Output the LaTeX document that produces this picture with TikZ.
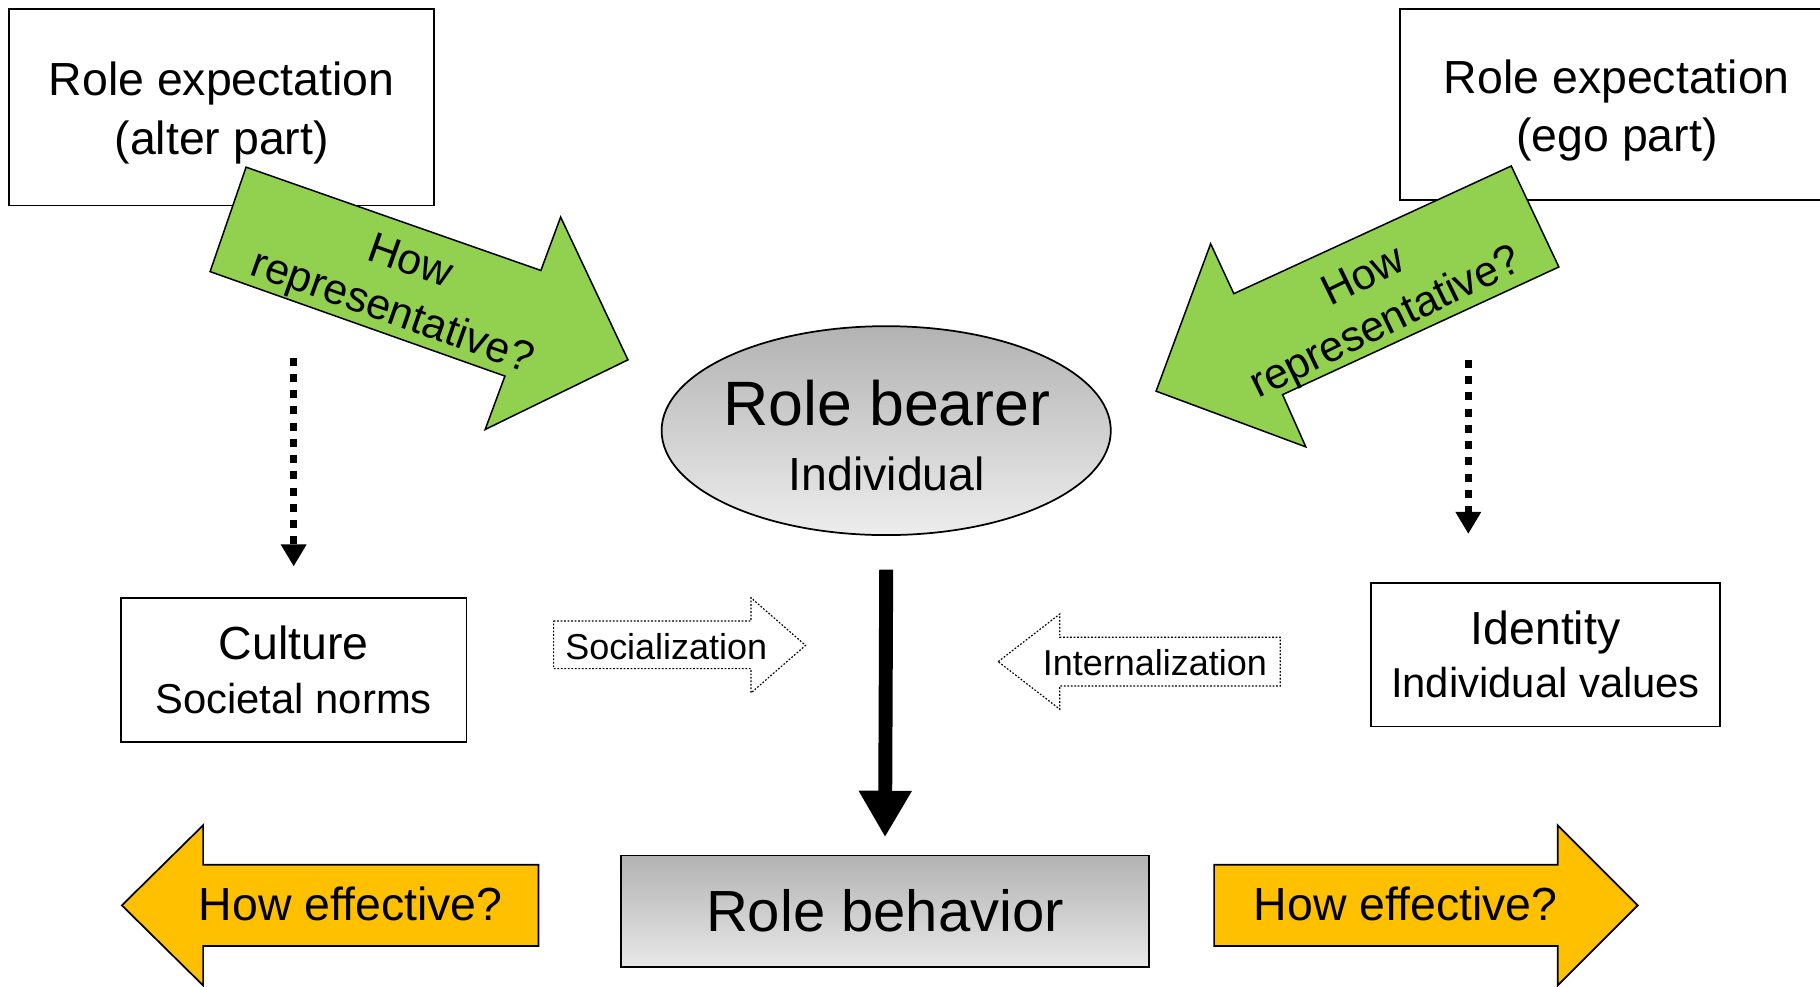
\documentclass[tikz,border=0pt]{standalone}
\usepackage{fontspec}
\setmainfont{Liberation Sans}
\usetikzlibrary{shapes.geometric,arrows.meta}
\definecolor{greenarr}{HTML}{92D050}
\definecolor{orangearr}{HTML}{FFC000}
\tikzset{
  plainbox/.style={draw=black,line width=1.5pt,fill=white,rectangle,inner sep=0pt,align=center},
  greenshape/.style={draw=black,line width=1.3pt,fill=greenarr,line join=miter},
  orangeshape/.style={draw=black,line width=1.5pt,fill=orangearr,line join=miter},
  hollowshape/.style={draw=black,line width=1pt,dash pattern=on 1.5pt off 1.5pt,fill=white},
  dotarrow/.style={line width=6pt,dash pattern=on 7pt off 7pt,-{Triangle[length=19pt,width=21pt]}},
  bigarrow/.style={line width=12pt,-{Triangle[length=40pt,width=43pt]}},
  lbl/.style={inner sep=0pt,align=center}
}
\begin{document}
\begin{tikzpicture}[x=1pt,y=-1pt]
\useasboundingbox (0,0) rectangle (1568,849.5);
\begin{scope}
\clip (0,0) rectangle (1568,849.5);

% top boxes
\node[plainbox,minimum width=366pt,minimum height=169pt] (alter) at (191,92.5) {};
\node[lbl,font=\fontsize{40}{51}\selectfont] (altertext) at (191,97) {Role expectation\\(alter part)};
\node[plainbox,minimum width=374pt,minimum height=164pt] (ego) at (1393,90) {};
\node[lbl,font=\fontsize{40}{50}\selectfont] (egotext) at (1393,95) {Role expectation\\(ego part)};

% green arrows
\draw[greenshape] (212,144) -- (466,233) -- (483,187) -- (541,310) -- (418,370) -- (435,324) -- (181,234) -- cycle;
\node[lbl,rotate=-19.5,font=\fontsize{37}{45.5}\selectfont] (repl) at (345,249) {How\\representative?};
\draw[greenshape] (1302,143) -- (1343,230) -- (1105,340) -- (1125,385) -- (996,337) -- (1043,210) -- (1063,253) -- cycle;
\node[lbl,rotate=26,font=\fontsize{37}{44}\selectfont] (repr) at (1185,260) {How\\representative?};

% role bearer
\node[draw=black,line width=1.5pt,ellipse,minimum width=387pt,minimum height=180pt,inner sep=0pt,
      top color=black!30,bottom color=black!7] (bearer) at (763.5,371) {};
\node[lbl,font=\fontsize{54}{56}\selectfont] (bearertext) at (764,375) {Role bearer\\{\fontsize{40}{48}\selectfont Individual}};

% middle boxes
\node[plainbox,minimum width=298pt,minimum height=124pt,font=\fontsize{40}{47}\selectfont] (culture) at (253,577) {Culture\\{\fontsize{36}{44}\selectfont Societal norms}};
\node[plainbox,minimum width=301pt,minimum height=124pt,font=\fontsize{40}{46}\selectfont] (identity) at (1331.5,564) {Identity\\{\fontsize{36}{44}\selectfont Individual values}};

% dotted arrows
\coordinate (ls) at (253,308);
\coordinate (le) at (253,488);
\coordinate (rs) at (1265,310);
\coordinate (re) at (1265,460);
\draw[dotarrow] (ls) -- (le);
\draw[dotarrow] (rs) -- (re);

% socialization / internalization
\draw[hollowshape] (477,535) -- (647,535) -- (647,515) -- (694,556) -- (647,597) -- (647,576) -- (477,576) -- cycle;
\node[lbl,font=\fontsize{31}{36}\selectfont] (soc) at (574,557) {Socialization};
\draw[hollowshape] (860,570) -- (913,529) -- (913,549) -- (1103,549) -- (1103,591) -- (913,591) -- (913,611) -- cycle;
\node[lbl,font=\fontsize{31}{36}\selectfont] (intl) at (995,571) {Internalization};

% role behavior
\node[draw=black,line width=1.5pt,rectangle,minimum width=455pt,minimum height=96pt,inner sep=0pt,
      top color=black!30,bottom color=black!9,font=\fontsize{50}{56}\selectfont] (behav) at (762.5,785) {Role behavior};

\draw[bigarrow] ([yshift=-29pt]bearer.south) -- ([yshift=15pt]behav.north);

% orange arrows
\draw[orangeshape] (105,780) -- (175,711) -- (175,745) -- (464,745) -- (464,815) -- (175,815) -- (175,849) -- cycle;
\node[lbl,font=\fontsize{40}{46}\selectfont] (effl) at (302,779) {How effective?};
\draw[orangeshape] (1046,745) -- (1342,745) -- (1342,711) -- (1411,780) -- (1342,849) -- (1342,815) -- (1046,815) -- cycle;
\node[lbl,font=\fontsize{40}{46}\selectfont] (effr) at (1211,779) {How effective?};
\end{scope}
\end{tikzpicture}
\end{document}
